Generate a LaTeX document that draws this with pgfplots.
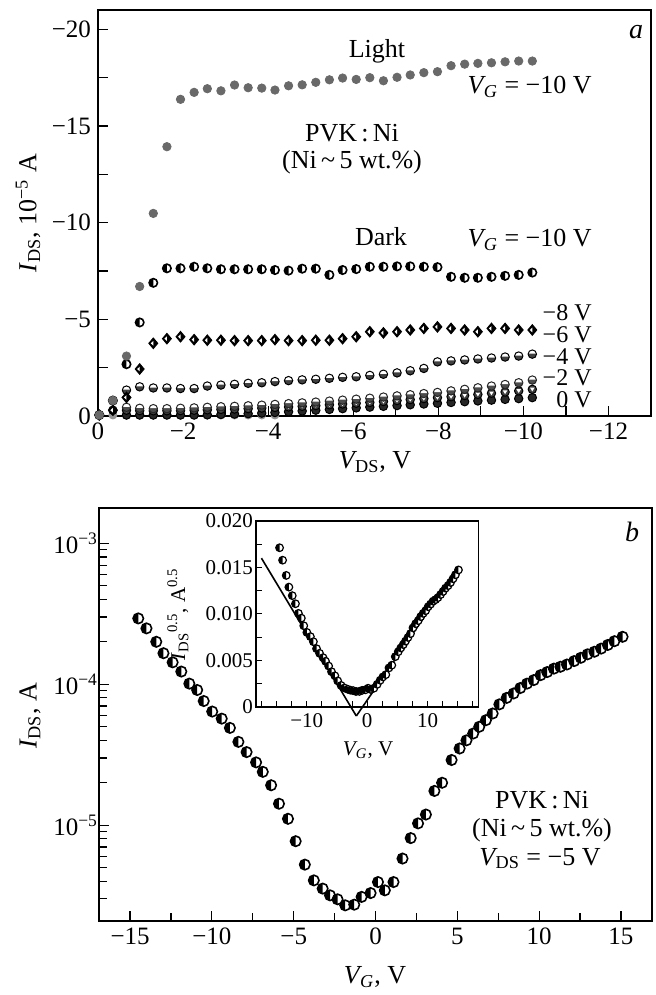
\documentclass[border=0pt]{standalone}
\usepackage{fontspec}
\setmainfont{Liberation Serif}
\usepackage{pgfplots}
\usepackage{pgfplotstable}
\pgfplotsset{compat=1.18}

\definecolor{lightpts}{RGB}{105,105,105}
\definecolor{zeropts}{RGB}{150,150,150}

% left half black, right half white
\pgfdeclareplotmark{hcirc}{%
  \begin{pgfscope}%
  \pgfpathcircle{\pgfpointorigin}{\pgfplotmarksize}%
  \pgfsetfillcolor{white}\pgfusepath{fill}%
  \pgfpathmoveto{\pgfqpoint{0pt}{\pgfplotmarksize}}%
  \pgfpatharc{90}{270}{\pgfplotmarksize}%
  \pgfpathclose
  \pgfsetfillcolor{black}\pgfusepath{fill}%
  \end{pgfscope}%
  \pgfpathcircle{\pgfpointorigin}{\pgfplotmarksize}%
  \pgfusepath{stroke}%
}
% black diamond with a white notch on the left
\pgfdeclareplotmark{hdiam}{%
  \begin{pgfscope}%
  \pgfpathmoveto{\pgfqpoint{0pt}{1.25\pgfplotmarksize}}%
  \pgfpathlineto{\pgfqpoint{1.05\pgfplotmarksize}{0pt}}%
  \pgfpathlineto{\pgfqpoint{0pt}{-1.25\pgfplotmarksize}}%
  \pgfpathlineto{\pgfqpoint{-1.05\pgfplotmarksize}{0pt}}%
  \pgfpathclose
  \pgfsetfillcolor{black}\pgfusepath{fill,stroke}%
  \pgfpathmoveto{\pgfqpoint{-0.6\pgfplotmarksize}{0pt}}%
  \pgfpathlineto{\pgfqpoint{0pt}{0.55\pgfplotmarksize}}%
  \pgfpathlineto{\pgfqpoint{0pt}{-0.55\pgfplotmarksize}}%
  \pgfpathclose
  \pgfsetfillcolor{white}\pgfusepath{fill}%
  \end{pgfscope}%
}
% filled circle with a white top cap
\pgfdeclareplotmark{topw}{%
  \pgfpathcircle{\pgfpointorigin}{\pgfplotmarksize}\pgfusepath{fill}%
  \begin{pgfscope}%
  \pgfpathmoveto{\pgfqpoint{\pgfplotmarksize}{0.1\pgfplotmarksize}}%
  \pgfpatharc{6}{174}{\pgfplotmarksize}%
  \pgfpathclose
  \pgfsetfillcolor{white}\pgfusepath{fill}%
  \end{pgfscope}%
  \pgfpathcircle{\pgfpointorigin}{\pgfplotmarksize}\pgfusepath{stroke}%
}
% filled circle with a white down triangle
\pgfdeclareplotmark{tric}{%
  \pgfpathcircle{\pgfpointorigin}{\pgfplotmarksize}\pgfusepath{fill,stroke}%
  \begin{pgfscope}%
  \pgfpathmoveto{\pgfqpoint{-0.55\pgfplotmarksize}{0.4\pgfplotmarksize}}%
  \pgfpathlineto{\pgfqpoint{0.55\pgfplotmarksize}{0.4\pgfplotmarksize}}%
  \pgfpathlineto{\pgfqpoint{0pt}{-0.5\pgfplotmarksize}}%
  \pgfpathclose
  \pgfsetfillcolor{white}\pgfusepath{fill}%
  \end{pgfscope}%
}

\newcommand{\VG}{\textit{V}\kern-0.08em\textsubscript{\textit{G}}}
\newcommand{\IDS}{\textit{I}\textsubscript{DS}}
\newcommand{\VDS}{\textit{V}\kern-0.08em\textsubscript{DS}}

% output characteristics, V_DS (V) and I_DS (1e-5 A)
\pgfplotstableread{
V      L       D10    D8     D6     S4     S2     S0     Z
-0.03  -0.05   -0.05  -0.05  -0.05  nan    nan    nan    -0.05
-0.35  -0.80   -0.80  -0.30  -0.30  nan    nan    nan    -0.05
-0.67  -3.10   -2.68  -0.96  -1.34  -0.45  -0.30  -0.05  -0.05
-0.98  -6.70   -4.84  -2.43  -1.51  -0.40  -0.28  -0.05  -0.05
-1.30  -10.48  -6.89  -3.76  -1.45  -0.38  -0.27  -0.05  -0.05
-1.62  -13.93  -7.64  -4.00  -1.45  -0.38  -0.27  -0.05  -0.05
-1.94  -16.38  -7.64  -4.10  -1.42  -0.40  -0.28  -0.05  -0.05
-2.26  -16.74  -7.72  -3.95  -1.42  -0.42  -0.30  -0.05  -0.05
-2.57  -16.93  -7.64  -3.92  -1.55  -0.45  -0.32  -0.06  -0.05
-2.89  -16.82  -7.59  -3.92  -1.60  -0.48  -0.34  -0.08  -0.05
-3.21  -17.12  -7.59  -3.90  -1.64  -0.50  -0.36  -0.10  -0.05
-3.53  -16.98  -7.59  -3.90  -1.69  -0.53  -0.38  -0.12  -0.05
-3.85  -16.96  -7.59  -3.90  -1.72  -0.56  -0.41  -0.15  -0.05
-4.16  -16.86  -7.55  -3.95  -1.78  -0.60  -0.44  -0.18  -0.05
-4.48  -17.08  -7.52  -3.90  -1.83  -0.64  -0.47  -0.22  nan
-4.80  -17.13  -7.62  -3.90  -1.87  -0.68  -0.50  -0.26  nan
-5.12  -17.26  -7.62  -3.92  -1.90  -0.72  -0.54  -0.30  nan
-5.44  -17.39  -7.30  -3.92  -1.95  -0.77  -0.58  -0.34  nan
-5.75  -17.48  -7.55  -4.00  -2.00  -0.82  -0.62  -0.38  nan
-6.07  -17.41  -7.60  -4.10  -2.03  -0.87  -0.66  -0.42  nan
-6.39  -17.50  -7.72  -4.36  -2.10  -0.92  -0.70  -0.46  nan
-6.71  -17.34  -7.72  -4.30  -2.16  -0.98  -0.75  -0.50  nan
-7.03  -17.52  -7.74  -4.36  -2.23  -1.04  -0.80  -0.54  nan
-7.34  -17.64  -7.74  -4.45  -2.34  -1.10  -0.85  -0.58  nan
-7.66  -17.76  -7.72  -4.53  -2.46  -1.16  -0.90  -0.62  nan
-7.98  -17.81  -7.70  -4.61  -2.80  -1.22  -0.95  -0.66  nan
-8.30  -18.12  -7.20  -4.53  -2.85  -1.30  -1.00  -0.70  nan
-8.62  -18.20  -7.15  -4.45  -2.90  -1.38  -1.06  -0.74  nan
-8.93  -18.24  -7.15  -4.36  -2.95  -1.46  -1.12  -0.78  nan
-9.25  -18.27  -7.20  -4.53  -3.00  -1.55  -1.18  -0.82  nan
-9.57  -18.32  -7.25  -4.53  -3.05  -1.63  -1.24  -0.86  nan
-9.89  -18.36  -7.30  -4.45  -3.10  -1.72  -1.30  -0.90  nan
-10.21 -18.36  -7.42  -4.45  -3.20  -1.86  -1.38  -0.95  nan
}\topdata

% transfer characteristic, V_G (V) and I_DS (A)
\pgfplotstableread{
VG     I
-14.5  2.93e-4
-14.0  2.49e-4
-13.4  2.00e-4
-12.96 1.66e-4
-12.4  1.43e-4
-11.87 1.23e-4
-11.38 1.01e-4
-10.9  9.1e-5
-10.5  7.6e-5
-9.98  6.4e-5
-9.4   5.7e-5
-8.9   4.9e-5
-8.38  3.9e-5
-7.88  3.3e-5
-7.3   2.79e-5
-6.89  2.39e-5
-6.38  1.92e-5
-5.9   1.42e-5
-5.35  1.11e-5
-4.88  7.7e-6
-4.32  5.25e-6
-3.77  4.06e-6
-3.23  3.55e-6
-2.78  3.18e-6
-2.32  2.98e-6
-1.85  2.70e-6
-1.3   2.73e-6
-0.85  3.1e-6
-0.3   3.3e-6
0.15   3.95e-6
0.57   3.45e-6
1.1    3.95e-6
1.65   5.8e-6
2.15   8.1e-6
2.6    1.03e-5
3.08   1.19e-5
3.6    1.75e-5
4.07   2.0e-5
4.65   2.9e-5
5.14   3.5e-5
5.56   4.0e-5
5.97   4.47e-5
6.34   4.99e-5
6.75   5.56e-5
7.16   6.2e-5
7.57   7.2e-5
8.02   8.0e-5
8.44   8.6e-5
8.85   9.4e-5
9.26   1.01e-4
9.67   1.07e-4
10.09  1.16e-4
10.49  1.22e-4
10.9   1.29e-4
11.3   1.33e-4
11.7   1.38e-4
12.14  1.46e-4
12.55  1.54e-4
12.96  1.63e-4
13.38  1.70e-4
13.79  1.79e-4
14.2   1.90e-4
14.6   2.02e-4
15.1   2.17e-4
}\transdata

% inset, V_G (V) and I_DS^0.5 (A^0.5)
\pgfplotstableread{
VG     S
-14.5  0.01712
-14.0  0.01578
-13.4  0.01414
-12.96 0.01288
-12.4  0.01196
-11.87 0.01109
-11.38 0.01005
-10.9  0.00954
-10.5  0.00872
-9.98  0.00800
-9.4   0.00755
-8.9   0.00700
-8.38  0.00625
-7.88  0.00575
-7.3   0.00528
-6.89  0.00489
-6.38  0.00438
-5.9   0.00377
-5.35  0.00333
-4.88  0.00278
-4.32  0.00229
-3.77  0.00202
-3.23  0.00188
-2.78  0.00178
-2.32  0.00173
-1.85  0.00164
-1.3   0.00165
-0.85  0.00176
-0.3   0.00182
0.15   0.00199
0.57   0.00186
1.1    0.00199
1.65   0.00241
2.15   0.00285
2.6    0.00321
3.08   0.00345
3.6    0.00418
4.07   0.00447
4.65   0.00539
5.14   0.00592
5.56   0.00633
5.97   0.00669
6.34   0.00706
6.75   0.00746
7.16   0.00787
7.57   0.00849
8.02   0.00894
8.44   0.00927
8.85   0.00970
9.26   0.01005
9.67   0.01034
10.09  0.01077
10.49  0.01105
10.9   0.01136
11.3   0.01153
11.7   0.01175
12.14  0.01208
12.55  0.01241
12.96  0.01277
13.38  0.01304
13.79  0.01338
14.2   0.01378
14.6   0.01421
15.1   0.01473
}\insetdata

\begin{document}
\begin{tikzpicture}
\useasboundingbox (0,0) rectangle (328pt,-497.5pt);

% ---------------- panel a ----------------
\begin{axis}[
    at={(49pt,-208pt)}, anchor=south west,
    scale only axis, width=276.5pt, height=203pt,
    x dir=reverse, y dir=reverse,
    xmin=-13, xmax=0, ymin=-21, ymax=0,
    xtick={-12,-10,-8,-6,-4,-2,0},
    xticklabels={−12,−10,−8,−6,−4,−2,0},
    minor xtick={-11,-9,-7,-5,-3,-1},
    ytick={-20,-15,-10,-5,0},
    yticklabels={−20,−15,−10,−5,0},
    minor ytick={-17.5,-12.5,-7.5,-2.5},
    tick align=inside, tick pos=left,
    major tick length=5pt, minor tick length=5pt,
    axis line style={line width=1pt},
    tick style={line width=0.6pt, black},
    tick label style={font=\fontsize{12.5}{13}\selectfont},
]
\addplot[only marks, mark=*, mark size=2pt, draw=zeropts, fill=zeropts] table[x=V, y=Z] {\topdata};
\addplot[only marks, mark=*, mark size=2.1pt, draw=black, fill=black!85, line width=0.5pt] table[x=V, y=S0] {\topdata};
\addplot[only marks, mark=tric, mark size=2.1pt, draw=black, fill=black!75, line width=0.5pt] table[x=V, y=S2] {\topdata};
\addplot[only marks, mark=topw, mark size=2.1pt, draw=black!85, fill=black!70, line width=0.5pt] table[x=V, y=S4] {\topdata};
\addplot[only marks, mark=topw, mark size=2.1pt, draw=black, fill=black!75, line width=0.5pt] table[x=V, y=D6] {\topdata};
\addplot[only marks, mark=hdiam, mark size=2.1pt, draw=black, line width=0.5pt] table[x=V, y=D8] {\topdata};
\addplot[only marks, mark=hcirc, mark size=2.1pt, draw=black, line width=0.8pt] table[x=V, y=D10] {\topdata};
\addplot[only marks, mark=*, mark size=2.1pt, draw=lightpts, fill=lightpts] table[x=V, y=L] {\topdata};
\end{axis}

% ---------------- panel b ----------------
\begin{axis}[
    at={(49.5pt,-460.5pt)}, anchor=south west,
    scale only axis, width=276.5pt, height=206.7pt,
    xmin=-16.9, xmax=16.9,
    ymode=log, ymin=2.09e-6, ymax=1.79e-3,
    xtick={-15,-10,-5,0,5,10,15},
    xticklabels={−15,−10,−5,0,5,10,15},
    minor xtick={-12.5,-7.5,-2.5,2.5,7.5,12.5},
    ytick={1e-5,1e-4,1e-3},
    yticklabels={10\textsuperscript{−5},10\textsuperscript{−4},10\textsuperscript{−3}},
    minor ytick={3e-6,4e-6,5e-6,6e-6,7e-6,8e-6,9e-6,2e-5,3e-5,4e-5,5e-5,6e-5,7e-5,8e-5,9e-5,2e-4,3e-4,4e-4,5e-4,6e-4,7e-4,8e-4,9e-4},
    tick align=inside, tick pos=left,
    major tick length=5pt, minor tick length=4pt,
    axis line style={line width=1pt},
    tick style={line width=0.6pt, black},
    tick label style={font=\fontsize{12.5}{13}\selectfont},
    yticklabel style={xshift=3pt},
]
\addplot[only marks, mark=hcirc, mark size=2.6pt, draw=black, line width=0.8pt] table[x=VG, y=I] {\transdata};
\end{axis}

% ---------------- inset ----------------
\begin{axis}[
    at={(128pt,-353.35pt)}, anchor=south west,
    scale only axis, width=111.2pt, height=92.85pt,
    xmin=-18.4, xmax=18.4, ymin=0, ymax=0.02,
    scaled y ticks=false,
    xtick={-10,0,10}, xticklabels={−10,0,10},
    minor xtick={-17.5,-15,-12.5,-7.5,-5,-2.5,2.5,5,7.5,12.5,15,17.5},
    ytick={0,0.005,0.01,0.015,0.02},
    yticklabels={0,0.005,0.010,0.015,0.020},
    minor ytick={0.0025,0.0075,0.0125,0.0175},
    tick align=inside, tick pos=left,
    major tick length=3pt, minor tick length=3pt,
    axis line style={line width=0.9pt},
    tick style={line width=0.5pt, black},
    tick label style={font=\fontsize{10.5}{11}\selectfont},
    yticklabel style={xshift=2pt},
    clip=false,
]
\addplot[black, line width=0.8pt] coordinates {(-17.5,0.0160) (-1.8,-0.0010)};
\addplot[black, line width=0.8pt] coordinates {(-1.8,-0.0010) (14.0,0.0140)};
\addplot[only marks, mark=hcirc, mark size=1.9pt, draw=black, line width=0.6pt] table[x=VG, y=S] {\insetdata};
\end{axis}

% ---------------- labels ----------------
\begin{scope}[every node/.style={font=\fontsize{13}{14}\selectfont, inner sep=0pt}]
\node[rotate=90] at (14pt,-106.5pt) {\IDS, 10\textsuperscript{−5} A};
\node at (187.5pt,-231pt) {\VDS, V};
\node[rotate=90] at (15pt,-358pt) {\IDS, A};
\node at (187.5pt,-488.5pt) {\VG, V};
\node[font=\fontsize{14}{15}\selectfont\itshape] at (318pt,-16pt) {a};
\node[font=\fontsize{14}{15}\selectfont\itshape] at (316pt,-266pt) {b};
\node[anchor=base] at (188.5pt,-29pt) {Light};
\node[anchor=base east] at (296pt,-47pt) {\VG\ = −10 V};
\node[anchor=base] at (176pt,-70.8pt) {PVK\,:\,Ni};
\node[anchor=base] at (176pt,-84pt) {(Ni\,\textasciitilde\,5 wt.\%)};
\node[anchor=base] at (190.5pt,-122.5pt) {Dark};
\node[anchor=base east] at (296pt,-123.3pt) {\VG\ = −10 V};
\begin{scope}[every node/.style={font=\fontsize{12}{12}\selectfont, inner sep=0pt}]
\node[anchor=base east] at (296pt,-160pt) {−8 V};
\node[anchor=base east] at (296pt,-171.3pt) {−6 V};
\node[anchor=base east] at (296pt,-182pt) {−4 V};
\node[anchor=base east] at (296pt,-192.5pt) {−2 V};
\node[anchor=base east] at (296pt,-203.7pt) {0 V};
\end{scope}
\node[anchor=base] at (271pt,-404.2pt) {PVK\,:\,Ni};
\node[anchor=base] at (271pt,-418.3pt) {(Ni\,\textasciitilde\,5 wt.\%)};
\node[anchor=base] at (270pt,-432.5pt) {\VDS\ = −5 V};
\node[rotate=90, font=\fontsize{10.5}{11}\selectfont] at (89pt,-307pt) {\IDS\textsuperscript{0.5}, A\textsuperscript{0.5}};
\node[font=\fontsize{10.5}{11}\selectfont] at (184pt,-375pt) {\VG, V};
\end{scope}
\end{tikzpicture}
\end{document}
